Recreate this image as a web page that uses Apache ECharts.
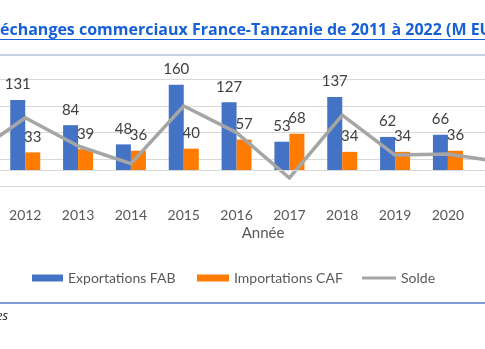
<!DOCTYPE html>
<html>
<head>
<meta charset="utf-8">
<script src="https://cdn.jsdelivr.net/npm/echarts@6/dist/echarts.min.js"></script>
<style>
html,body{margin:0;padding:0;background:#fff;overflow:hidden;width:485px;height:349px;position:relative;}
#c{position:absolute;left:-54px;top:0;width:634px;height:349px;}
</style>
</head>
<body>
<div id="c"></div>
<script>
// Data (2011, 2021, 2022 lie mostly outside the visible crop: estimated)
const years = ['2011','2012','2013','2014','2015','2016','2017','2018','2019','2020','2021','2022'];
const exportsFAB = [76, 131, 84, 48, 160, 127, 53, 137, 62, 66, 55, 70];
const importsCAF = [48, 33, 39, 36, 40, 57, 68, 34, 34, 36, 40, 45];
const solde = [28, 98, 45, 12, 120, 70, -15, 103, 28, 30, 15, 25];
const yTicks = { min: -30, max: 170, step: 50 };

const OX = 54; // container offset (the chart is cropped on the left)
const titleText = 'Les échanges commerciaux France-Tanzanie de 2011 à 2022 (M EUR)';
const titleFont = 'bold 16px "Open Sans"';
const ctx = document.createElement('canvas').getContext('2d');
ctx.font = titleFont;
const prefixW = ctx.measureText('Les ').width;
const fullW = ctx.measureText(titleText).width;

const FONT = 'Lato';
const legendText = { fontFamily: FONT, fontSize: 14, color: '#595959' };
const chart = echarts.init(document.getElementById('c'), null, {renderer: 'canvas'});
chart.setOption({
  animation: false,
  backgroundColor: '#ffffff',
  textStyle: { fontFamily: FONT },
  grid: { left: 0, right: 0, top: 79.3, bottom: 163, containLabel: false },
  legend: [
    { left: OX + 32, top: 271, padding: 0, itemWidth: 31, itemHeight: 7, itemGap: 0, textStyle: legendText,
      data: [{ name: 'Exportations FAB', icon: 'rect' }] },
    { left: OX + 197, top: 271, padding: 0, itemWidth: 32, itemHeight: 7, itemGap: 0, textStyle: legendText,
      data: [{ name: 'Importations CAF', icon: 'rect' }] },
    { left: OX + 362, top: 271, padding: 0, itemWidth: 34, itemHeight: 3, itemGap: 0, textStyle: legendText,
      data: [{ name: 'Solde', icon: 'rect' }] }
  ],
  xAxis: {
    type: 'category', data: years,
    axisLine: { show: false }, axisTick: { show: false },
    axisLabel: { interval: 0, margin: 22, fontSize: 14, color: '#595959', fontFamily: FONT },
    name: 'Année', nameLocation: 'middle', nameGap: 40,
    nameTextStyle: { fontSize: 15, color: '#595959', fontFamily: FONT }
  },
  yAxis: {
    type: 'value', min: yTicks.min, max: yTicks.max, interval: yTicks.step,
    axisLabel: { show: false }, axisLine: { show: false }, axisTick: { show: false },
    splitLine: { lineStyle: { color: '#d9d9d9', width: 1 } }
  },
  series: [
    {
      name: 'Exportations FAB', type: 'bar', data: exportsFAB,
      barWidth: 15, barGap: '0%',
      itemStyle: { color: '#4472c4' },
      label: { show: true, position: 'top', distance: 8, fontSize: 15, color: '#404040', fontFamily: FONT },
      markLine: {
        silent: true, symbol: 'none', label: { show: false },
        lineStyle: { color: '#d9d9d9', width: 1, type: 'solid' },
        data: [{ yAxis: 0 }]
      }
    },
    {
      name: 'Importations CAF', type: 'bar', data: importsCAF,
      barWidth: 15, barGap: '0%',
      itemStyle: { color: '#ff7c00' },
      label: { show: true, position: 'top', distance: 8, fontSize: 15, color: '#404040', fontFamily: FONT }
    },
    {
      name: 'Solde', type: 'line', data: solde,
      symbol: 'none', showSymbol: false,
      lineStyle: { color: '#a5a5a5', width: 3.5, cap: 'round', join: 'round' },
      itemStyle: { color: '#a5a5a5' }
    }
  ],
  graphic: [
    { type: 'text', left: OX - prefixW, top: 22, style: { text: titleText, font: titleFont, fill: '#1560d8' }, z: 10 },
    { type: 'line', shape: { x1: OX - prefixW, y1: 39.5, x2: OX - prefixW + fullW, y2: 39.5 }, style: { stroke: '#1560d8', lineWidth: 1 }, z: 10 },
    { type: 'line', shape: { x1: 0, y1: 55, x2: 634, y2: 55 }, style: { stroke: '#c8d2ea', lineWidth: 2 }, z: 10 },
    { type: 'line', shape: { x1: 0, y1: 303, x2: 634, y2: 303 }, style: { stroke: '#7f9ad8', lineWidth: 2 }, z: 10 },
    { type: 'text', x: OX + 8, y: 310, style: { text: 'Source : Douanes', font: 'italic 13px "Open Sans"', fill: '#222', align: 'right' }, z: 10 }
  ]
});
</script>
</body>
</html>
